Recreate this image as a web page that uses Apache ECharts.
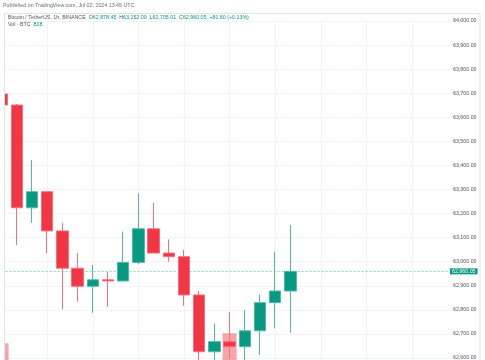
<!DOCTYPE html>
<html><head><meta charset="utf-8">
<script src="https://cdn.jsdelivr.net/npm/echarts@6/dist/echarts.min.js"></script>
<style>html,body{margin:0;padding:0;background:#fff}#c{width:485px;height:360px}</style>
</head><body><div id="c"></div>
<script>
// Hourly candles, BTC/USDT (index 0 = first visible bar)
const opens  = [63697, 63651, 63224, 63291, 63128, 62973, 62898, 62925, 62920, 62997, 63137, 63036, 63021, 62862, 62626, 62668, 62647, 62713, 62830, 62878.45];
const closes = [63651, 63224, 63291, 63128, 62973, 62898, 62925, 62920, 62997, 63137, 63036, 63021, 62862, 62626, 62668, 62647, 62713, 62830, 62878.45, 62960.05];
const lows   = [63600, 63069, 63162, 63035, 62802, 62834, 62788, 62813, 62920, 62990, 63036, 63000, 62817, 62560, 62580, 62599, 62590, 62612, 62723, 62705.01];
const highs  = [63760, 63655, 63423, 63291, 63162, 63036, 62986, 62958, 63125, 63284, 63245, 63093, 63049, 62878, 62744, 62792, 62799, 62864, 63042, 63152.00];
const volumes = [1534, 1100, 900, 850, 950, 700, 650, 600, 700, 900, 800, 600, 900, 1150, 1000, 1734, 900, 1000, 850, 828];
const lastPrice = 62960.05;
const headerLine1 = 'Published on TradingView.com, Jul 02, 2024 13:45 UTC';
const symbolText = 'Bitcoin / TetherUS, 1h, BINANCE';
const ohlcText = ['O', '62,878.45', 'H', '63,152.00', 'L', '62,705.01', 'C', '62,960.05', '+81.60 (+0.13%)'];
const volLabel = 'Vol · BTC';
const volValue = '828';

const UP = '#089981', DOWN = '#F23645';
const FONT = 'Liberation Sans, Arial, sans-serif';
const FS = 5.3;

const candleData = opens.map((o, i) => [i, o, closes[i], lows[i], highs[i]]);
const volData = volumes.map((v, i) => ({
  value: [i, v],
  itemStyle: { color: closes[i] >= opens[i] ? 'rgba(8,153,129,0.5)' : 'rgba(242,54,69,0.45)' }
}));
const fmt = v => v.toLocaleString('en-US', { minimumFractionDigits: 2, maximumFractionDigits: 2 });

const chart = echarts.init(document.getElementById('c'), null, { renderer: 'canvas' });
chart.setOption({
  animation: false,
  backgroundColor: '#fff',
  textStyle: { fontFamily: FONT },
  title: [
    { text: headerLine1, left: 3, top: 3, padding: 0,
      textStyle: { fontSize: FS, fontWeight: 'normal', color: '#6a6d78', fontFamily: FONT } },
    { text: symbolText + '  ' + ohlcText.map((t, k) => k === 8 ? '{v|' + t + '}' : (k % 2 === 0 ? '{g|' + t + '}' : '{v|' + t + '}  ')).join(''),
      left: 8, top: 15.5, padding: 0,
      textStyle: { fontSize: FS, fontWeight: 'normal', color: '#50535e', fontFamily: FONT,
        rich: { g: { fontSize: FS, color: '#50535e', fontFamily: FONT }, v: { fontSize: FS, color: UP, fontFamily: FONT } } } },
    { text: volLabel + '  {v|' + volValue + '}', left: 8, top: 22.5, padding: 0,
      textStyle: { fontSize: FS, fontWeight: 'normal', color: '#50535e', fontFamily: FONT,
        rich: { v: { fontSize: FS, color: UP, fontFamily: FONT } } } }
  ],
  grid: [
    { left: 1.6, width: 448.4, top: 21, height: 361.1, outerBoundsMode: 'none', containLabel: false },
    { left: 1.6, width: 448.4, top: 300, height: 120, outerBoundsMode: 'none', containLabel: false }
  ],
  xAxis: [
    { type: 'value', gridIndex: 0, min: 0, max: 29.5, interval: 3,
      axisLine: { show: false }, axisTick: { show: false }, axisLabel: { show: false },
      splitLine: { show: true, showMinLine: false, showMaxLine: false, lineStyle: { color: '#f0f3fa', width: 1 } } },
    { type: 'value', gridIndex: 1, min: 0, max: 29.5,
      axisLine: { show: false }, axisTick: { show: false }, axisLabel: { show: false }, splitLine: { show: false } }
  ],
  yAxis: [
    { type: 'value', gridIndex: 0, position: 'right', min: 62500, max: 64000, interval: 100,
      axisLine: { show: false }, axisTick: { show: false },
      axisLabel: { show: true, margin: 3, fontSize: FS, color: '#50535e', fontFamily: FONT, formatter: fmt },
      splitLine: { show: true, lineStyle: { color: '#f0f3fa', width: 1 } } },
    { type: 'value', gridIndex: 1, min: 0, max: 2400,
      axisLine: { show: false }, axisTick: { show: false }, axisLabel: { show: false }, splitLine: { show: false } }
  ],
  series: [
    { type: 'bar', xAxisIndex: 1, yAxisIndex: 1, data: volData, barWidth: 14, z: 1, silent: true },
    { type: 'line', xAxisIndex: 0, yAxisIndex: 0, data: [], z: 2, silent: true,
      markLine: {
        z: 2, silent: true, symbol: 'none', animation: false,
        data: [{ yAxis: lastPrice }],
        lineStyle: { color: '#8fd3c6', type: [2, 2], width: 1, opacity: 1 },
        label: { show: true, position: 'end', distance: 0, formatter: () => fmt(lastPrice),
          backgroundColor: UP, color: '#ffffff', opacity: 1, fontSize: FS, fontFamily: FONT, padding: [1, 2, 0, 2] }
      }
    },
    { type: 'candlestick', xAxisIndex: 0, yAxisIndex: 0, data: candleData, barWidth: 12, z: 3,
      encode: { x: 0, y: [1, 2, 3, 4] },
      itemStyle: { color: UP, color0: DOWN, borderColor: '#4fb9a6', borderColor0: '#f5707b', borderWidth: 1 }
    }
  ],
  graphic: [
    { type: 'rect', left: 0, top: 13, shape: { x: 0, y: 0, width: 4, height: 347 }, style: { fill: '#fff' }, z: 100 },
    { type: 'rect', shape: { x: 4.5, y: 13.5, width: 475.5, height: 400 }, style: { fill: 'none', stroke: '#e0e3eb', lineWidth: 1 }, z: 101 }
  ]
});
</script></body></html>
